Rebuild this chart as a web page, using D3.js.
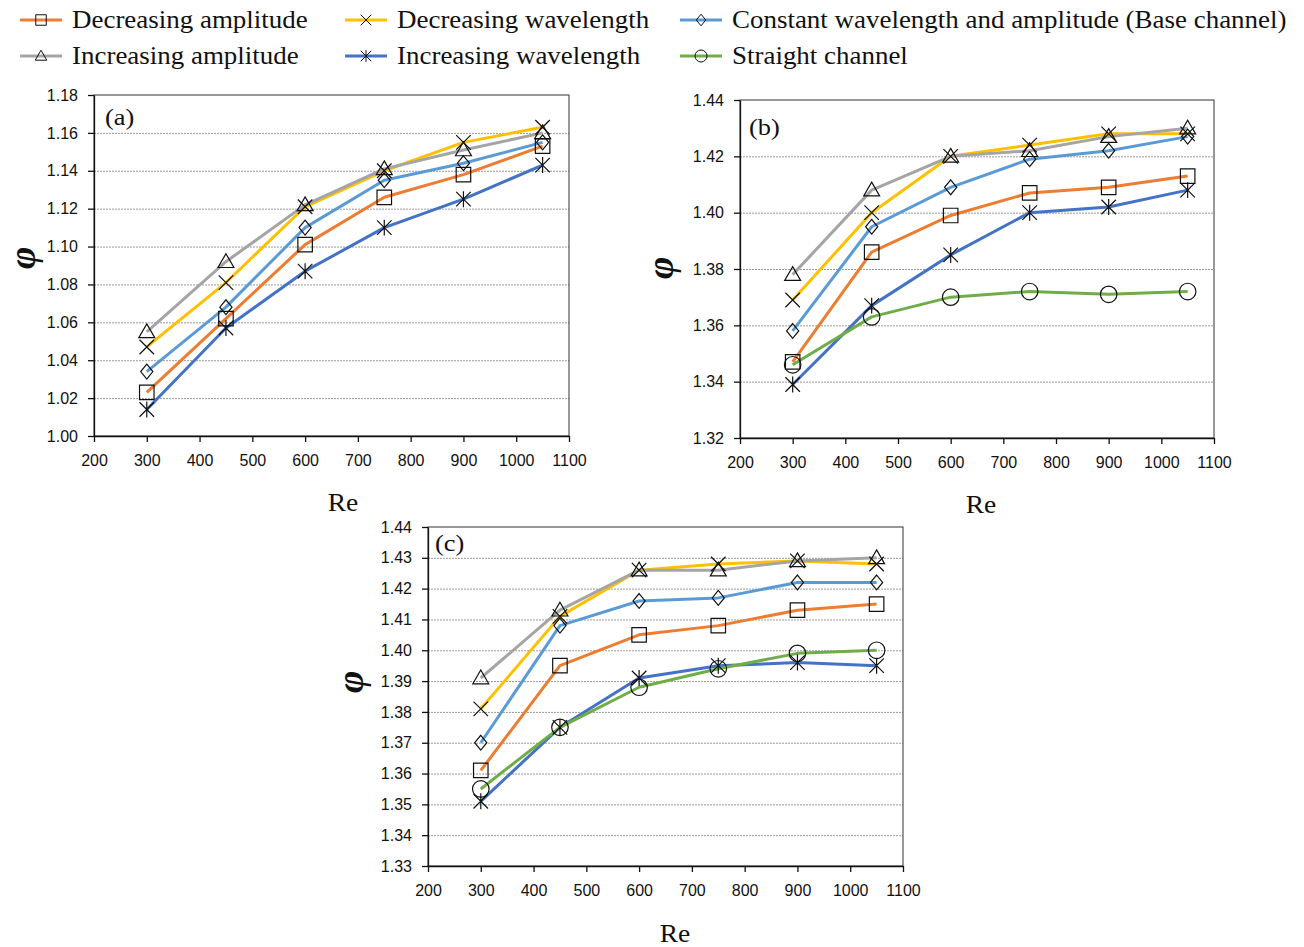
<!DOCTYPE html>
<html>
<head>
<meta charset="utf-8">
<script src="https://cdn.jsdelivr.net/npm/d3@7"></script>
<style>
  body { margin: 0; background: #fff; }
  .grid line { stroke: #9a9a9a; stroke-dasharray: 2,1; stroke-width: 1; }
  .grid .domain { display: none; }
  .axis text { font-family: "Liberation Sans", Arial, sans-serif; font-size: 16px; fill: #111; }
  .axis line, .axis path { stroke: #111; stroke-width: 1.3; }
  .serif { font-family: "Liberation Serif", "Times New Roman", serif; fill: #111; }
</style>
</head>
<body>
<div id="chart"></div>
<script>
// Reynolds numbers (x values)
const reValues = [300, 450, 600, 750, 900, 1050];

// Panel (a)
const decAmpA  = [1.023, 1.062, 1.101, 1.126, 1.138, 1.153];
const decWaveA = [1.047, 1.081, 1.121, 1.140, 1.155, 1.163];
const baseA    = [1.034, 1.068, 1.110, 1.135, 1.144, 1.155];
const incAmpA  = [1.055, 1.092, 1.122, 1.141, 1.151, 1.160];
const incWaveA = [1.014, 1.057, 1.087, 1.110, 1.125, 1.143];

// Panel (b)
const decAmpB   = [1.347, 1.386, 1.399, 1.407, 1.409, 1.413];
const decWaveB  = [1.369, 1.400, 1.420, 1.424, 1.428, 1.428];
const baseB     = [1.358, 1.395, 1.409, 1.419, 1.422, 1.427];
const incAmpB   = [1.378, 1.408, 1.420, 1.422, 1.427, 1.430];
const incWaveB  = [1.339, 1.367, 1.385, 1.400, 1.402, 1.408];
const straightB = [1.346, 1.363, 1.370, 1.372, 1.371, 1.372];

// Panel (c)
const decAmpC   = [1.361, 1.395, 1.405, 1.408, 1.413, 1.415];
const decWaveC  = [1.381, 1.411, 1.426, 1.428, 1.429, 1.428];
const baseC     = [1.370, 1.408, 1.416, 1.417, 1.422, 1.422];
const incAmpC   = [1.391, 1.413, 1.426, 1.426, 1.429, 1.430];
const incWaveC  = [1.351, 1.375, 1.391, 1.395, 1.396, 1.395];
const straightC = [1.355, 1.375, 1.388, 1.394, 1.399, 1.400];

// Axis ticks
const xTicks  = [200, 300, 400, 500, 600, 700, 800, 900, 1000, 1100];
const yTicksA = [1.00, 1.02, 1.04, 1.06, 1.08, 1.10, 1.12, 1.14, 1.16, 1.18];
const yTicksB = [1.32, 1.34, 1.36, 1.38, 1.40, 1.42, 1.44];
const yTicksC = [1.33, 1.34, 1.35, 1.36, 1.37, 1.38, 1.39, 1.40, 1.41, 1.42, 1.43, 1.44];

// Series styling (legend order)
const seriesInfo = [
    { key: "decAmp",   name: "Decreasing amplitude", color: "#ED7D31", marker: "square" },
    { key: "decWave",  name: "Decreasing wavelength", color: "#FFC000", marker: "cross" },
    { key: "base",     name: "Constant wavelength and amplitude (Base channel)", color: "#5B9BD5", marker: "diamond" },
    { key: "incAmp",   name: "Increasing amplitude", color: "#A5A5A5", marker: "triangle" },
    { key: "incWave",  name: "Increasing wavelength", color: "#4472C4", marker: "asterisk" },
    { key: "straight", name: "Straight channel", color: "#70AD47", marker: "circle" }
];

const panels = [
    { label: "(a)", box: { left: 94, right: 569, top: 95, bottom: 436 }, yTicks: yTicksA,
      reLabel: [343, 503], phiLabel: [22, 258], tag: [105, 117],
      series: { decAmp: decAmpA, decWave: decWaveA, base: baseA, incAmp: incAmpA, incWave: incWaveA } },
    { label: "(b)", box: { left: 740, right: 1214, top: 100, bottom: 438 }, yTicks: yTicksB,
      reLabel: [981, 505], phiLabel: [660, 268], tag: [749, 127],
      series: { decAmp: decAmpB, decWave: decWaveB, base: baseB, incAmp: incAmpB, incWave: incWaveB, straight: straightB } },
    { label: "(c)", box: { left: 428, right: 903, top: 527, bottom: 866 }, yTicks: yTicksC,
      reLabel: [675, 934], phiLabel: [350, 682], tag: [435, 543],
      series: { decAmp: decAmpC, decWave: decWaveC, base: baseC, incAmp: incAmpC, incWave: incWaveC, straight: straightC } }
];

const svg = d3.select("#chart")
    .append("svg")
    .attr("width", 1304)
    .attr("height", 947);

// Marker path builder (s = nominal size)
function markerPath(type, s) {
    const h = s / 2;
    switch (type) {
        case "square":
            return `M${-h},${-h}H${h}V${h}H${-h}Z`;
        case "diamond":
            return `M0,${-h * 1.1}L${h * 0.9},0L0,${h * 1.1}L${-h * 0.9},0Z`;
        case "triangle":
            return `M0,${-h * 1.1}L${h * 1.1},${h * 0.8}L${-h * 1.1},${h * 0.8}Z`;
        case "circle":
            return d3.symbol(d3.symbolCircle, Math.PI * h * h * 1.3)();
        case "cross":
            return `M${-h},${-h}L${h},${h}M${h},${-h}L${-h},${h}`;
        case "asterisk":
            return `M${-h},${-h}L${h},${h}M${h},${-h}L${-h},${h}M0,${-h * 1.1}V${h * 1.1}`;
    }
}

// Serif text, slightly widened like the reference
function serifText(sel, x, y, txt, size, anchor) {
    return sel.append("text")
        .attr("class", "serif")
        .attr("transform", `translate(${x},${y}) scale(1.1,1)`)
        .attr("text-anchor", anchor || "start")
        .attr("dominant-baseline", "central")
        .style("font-size", size + "px")
        .text(txt);
}

panels.forEach(function (p) {
    const b = p.box;
    const x = d3.scaleLinear().domain([200, 1100]).range([b.left, b.right]);
    const yMin = p.yTicks[0], yMax = p.yTicks[p.yTicks.length - 1];
    const y = d3.scaleLinear().domain([yMin, yMax]).range([b.bottom, b.top]);

    const g = svg.append("g");

    // Grid lines
    g.append("g")
        .attr("class", "grid")
        .attr("transform", `translate(${b.left},0)`)
        .call(d3.axisLeft(y).tickValues(p.yTicks.slice(1, -1)).tickSize(-(b.right - b.left)).tickFormat(""));

    // Frame
    g.append("rect")
        .attr("x", b.left).attr("y", b.top)
        .attr("width", b.right - b.left).attr("height", b.bottom - b.top)
        .attr("fill", "none").attr("stroke", "#333").attr("stroke-width", 1);

    // Axes
    g.append("g")
        .attr("class", "axis")
        .attr("transform", `translate(0,${b.bottom})`)
        .call(d3.axisBottom(x).tickValues(xTicks).tickSize(6).tickPadding(13).tickSizeOuter(0).tickFormat(d3.format("d")));

    g.append("g")
        .attr("class", "axis")
        .attr("transform", `translate(${b.left},0)`)
        .call(d3.axisLeft(y).tickValues(p.yTicks).tickSize(6).tickPadding(10).tickSizeOuter(0).tickFormat(d3.format(".2f")));

    // Lines
    const line = d3.line()
        .x((d, i) => x(reValues[i]))
        .y(d => y(d));

    seriesInfo.forEach(function (s) {
        const vals = p.series[s.key];
        if (!vals) return;
        g.append("path")
            .datum(vals)
            .attr("d", line)
            .attr("fill", "none")
            .attr("stroke", s.color)
            .attr("stroke-width", 3)
            .attr("stroke-linejoin", "round");
    });

    // Markers
    seriesInfo.forEach(function (s) {
        const vals = p.series[s.key];
        if (!vals) return;
        const size = s.marker === "diamond" ? 13.5 : 14.5;
        g.selectAll(null)
            .data(vals)
            .enter()
            .append("path")
            .attr("transform", (d, i) => `translate(${x(reValues[i])},${y(d)})`)
            .attr("d", markerPath(s.marker, size))
            .attr("fill", "none")
            .attr("stroke", "#111")
            .attr("stroke-width", 1.2);
    });

    // Panel tag and axis titles
    serifText(g, p.tag[0], p.tag[1], p.label, 24);
    serifText(g, p.reLabel[0], p.reLabel[1], "Re", 25, "middle");

    g.append("text")
        .attr("class", "serif")
        .attr("transform", `translate(${p.phiLabel[0]},${p.phiLabel[1]}) rotate(-90)`)
        .attr("text-anchor", "middle")
        .attr("dominant-baseline", "central")
        .style("font-size", "38px")
        .style("font-style", "italic")
        .style("font-weight", "bold")
        .text("φ");
});

// Legend
const legendPos = [
    [20, 20], [345, 20], [680, 20],
    [20, 56], [345, 56], [680, 56]
];

seriesInfo.forEach(function (s, i) {
    const [lx, ly] = legendPos[i];
    const lg = svg.append("g").attr("transform", `translate(${lx},${ly})`);
    lg.append("line")
        .attr("x1", 0).attr("x2", 42)
        .attr("y1", 0).attr("y2", 0)
        .attr("stroke", s.color).attr("stroke-width", 3);
    lg.append("path")
        .attr("transform", "translate(21,0)")
        .attr("d", markerPath(s.marker, 10.5))
        .attr("fill", "none")
        .attr("stroke", "#111")
        .attr("stroke-width", 1);
    serifText(lg, 52, 0, s.name, 24.5);
});
</script>
</body>
</html>
